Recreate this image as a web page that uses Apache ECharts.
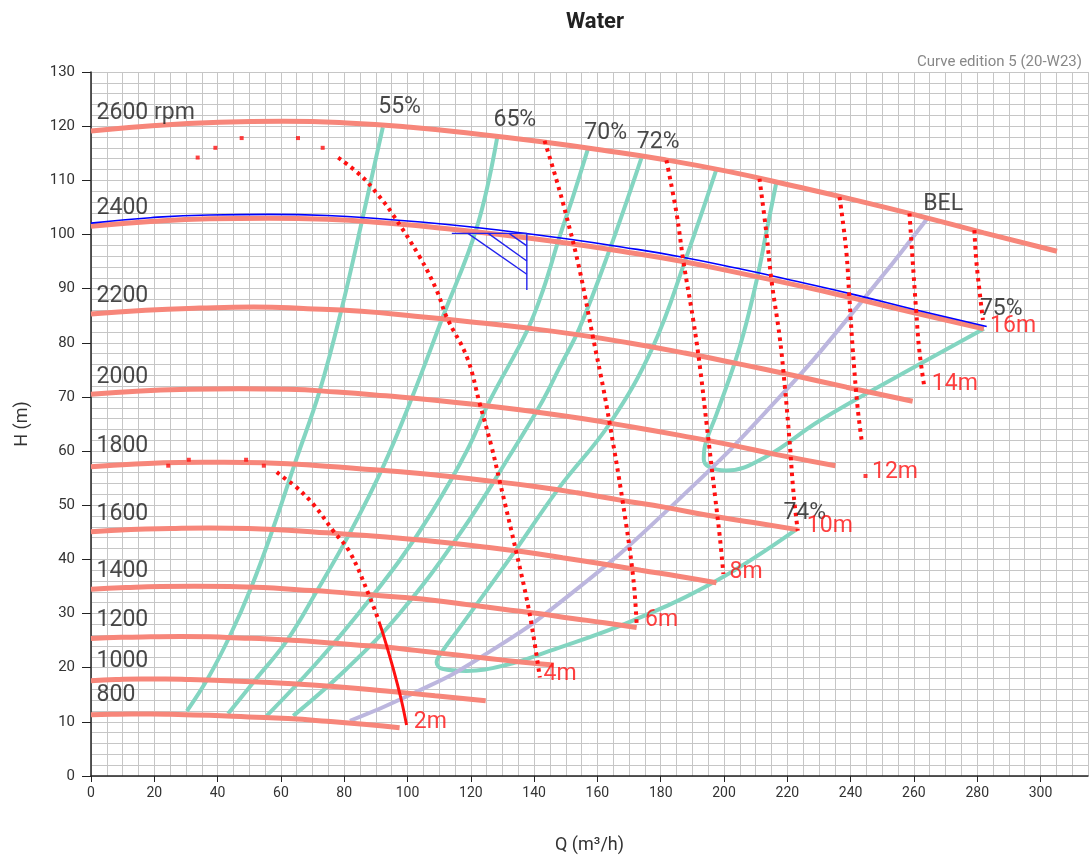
<!DOCTYPE html>
<html>
<head>
<meta charset="utf-8">
<title>Water</title>
<script src="https://cdn.jsdelivr.net/npm/echarts@6/dist/echarts.min.js"></script>
<style>
  html, body { margin: 0; padding: 0; background: #fff; }
  #chart { width: 1092px; height: 859px; }
</style>
</head>
<body>
<div id="chart"></div>
<script>
// speed curves  [Q (m3/h), H (m)]
var rpm2600 = [[0,119.1],[20.4,120.1],[40.6,120.7],[60.7,120.9],[80.8,120.6],[101,119.8],[121.1,118.6],[141.2,117.2],[161.3,115.6],[181.4,113.8],[201.6,111.6],[221.7,109.0],[241.8,106.3],[261.9,103.4],[282.1,100.3],[305.2,96.9]];
var rpm2400 = [[0,101.5],[18.8,102.4],[37.4,102.9],[56.1,103.0],[74.6,102.8],[93.2,102.1],[111.8,101.1],[130.4,99.9],[149,98.5],[167.6,96.9],[186.1,95.1],[204.6,92.9],[223.2,90.6],[241.8,88.1],[260.4,85.5],[282.1,82.6]];
var rpm2200 = [[0,85.3],[17.2,86.0],[34.3,86.4],[51.4,86.6],[68.4,86.3],[85.4,85.8],[102.4,84.9],[119.5,83.9],[136.6,82.8],[153.6,81.5],[170.6,79.9],[187.6,78.1],[204.7,76.1],[221.7,74.0],[238.7,71.8],[259.6,69.2]];
var rpm2000 = [[0,70.5],[15.7,71.1],[31.3,71.4],[46.8,71.5],[62.2,71.4],[77.7,70.9],[93.2,70.2],[108.7,69.4],[124.2,68.4],[139.6,67.3],[155.1,66.0],[170.6,64.5],[186.1,62.9],[201.6,61.2],[217.1,59.3],[235.2,57.3]];
var rpm1800 = [[0,57.1],[14.1,57.6],[28.2,57.9],[42.1,57.95],[56.1,57.8],[70,57.4],[83.9,56.8],[97.8,56.2],[111.8,55.4],[125.7,54.5],[139.7,53.5],[153.6,52.3],[167.6,50.9],[181.5,49.6],[195.3,48.1],[209.3,46.8],[223.2,45.5]];
var rpm1600 = [[0,45.1],[12.6,45.5],[25.1,45.7],[37.5,45.8],[49.8,45.7],[62.2,45.4],[74.6,44.9],[87,44.4],[99.4,43.8],[111.8,43.1],[124.2,42.3],[136.6,41.4],[149,40.3],[161.3,39.2],[173.7,38.0],[185.6,36.9],[197.6,35.7]];
var rpm1400 = [[0,34.5],[11,34.8],[22,35.0],[32.8,35.05],[43.7,35.0],[54.5,34.8],[65.3,34.4],[76.2,34.0],[87,33.5],[97.9,33.0],[108.7,32.4],[119.5,31.6],[130.3,30.8],[141.2,30.0],[152.1,29.1],[162.2,28.3],[172.4,27.4]];
var rpm1200 = [[0,25.4],[9.5,25.6],[18.9,25.7],[28.2,25.75],[37.4,25.7],[46.8,25.5],[56.1,25.3],[65.3,25.0],[74.6,24.6],[83.9,24.2],[93.2,23.8],[102.5,23.2],[111.8,22.6],[121,22.0],[130.3,21.4],[138.3,20.9],[146.2,20.5]];
var rpm1000 = [[0,17.6],[7.9,17.8],[15.8,17.9],[23.5,17.9],[31.3,17.8],[46.8,17.5],[62.2,17.1],[77.7,16.5],[93.2,15.7],[108.7,14.8],[124.7,13.9]];
var rpm800 = [[0,11.3],[6.4,11.4],[12.7,11.45],[18.9,11.45],[25.1,11.4],[37.4,11.2],[49.8,10.9],[62.2,10.6],[74.6,10.1],[87.1,9.5],[97.5,8.9]];

// duty curve (blue) and its hatched tolerance mark
var dutyCurve = [[0,102.1],[18.8,103.1],[37.4,103.6],[56.1,103.7],[74.6,103.5],[93.2,102.8],[111.8,101.9],[130.4,100.7],[149,99.3],[167.6,97.7],[186.1,95.9],[204.6,93.7],[223.2,91.3],[241.8,88.8],[260.4,86.1],[283,83.0]];
var hatch = [
  [[114,100.2],[137.7,100.2]],
  [[137.7,100.2],[137.7,89.75]],
  [[119.1,100.2],[137.7,92.65]],
  [[125.5,100.2],[137.7,95.1]],
  [[132.1,100.2],[137.7,97.9]]
];

// iso-efficiency curves
var eff55 = [[30.3,12],[37,18.1],[43.9,25.9],[50.8,35.1],[57.5,45.7],[64.4,57.7],[72.3,71.2],[79.2,86.3],[85.8,103],[92.2,119.8]];
var eff65 = [[43.3,11.5],[51.7,17.6],[61.9,25],[71.4,34.2],[81.8,44.9],[92.2,57],[101.3,69.7],[111.1,84.7],[121.9,101.3],[128.3,117.8]];
var eff70 = [[55.5,11.1],[70.7,20.5],[83.8,29.5],[97.5,39.8],[108,49],[118.8,60.1],[126,69.3],[137.6,82],[142.8,89.7],[148,99.5],[152.3,107],[157,115.8]];
var eff72 = [[63.9,11.1],[80.8,19.8],[97.5,30],[116.5,44.7],[133.3,60.1],[142.7,69.3],[148,75.4],[154.4,82.8],[163.8,97.1],[174,114.3]];
var eff74 = [[197.6,112],[188.1,95.8],[177.5,79.2],[163.8,65.0],[148,53.3],[132.1,40],[116.5,27.4],[111,23],[109.2,21],[111,19.8],[118.6,19.4],[131.1,20.5],[144.9,23.1],[171.2,28.7],[197.7,36.1],[223,45.6]];
var eff75 = [[216.5,109.5],[213.5,100.8],[210.3,91.5],[204.9,79.1],[197.7,66.9],[194,61],[193.6,58.5],[195.5,57],[200.7,56.4],[213.4,59],[230.2,65.6],[257,74.5],[282.1,82.6]];

// best efficiency line
var bel = [[81.8,10.2],[100.9,15],[122.8,21.8],[151.3,33.5],[185.4,50.9],[216.5,69.3],[241.8,86.4],[264.3,103]];

// NPSH curves
var npsh2mDots = [[24.4,57.3],[30.9,58.4],[49,58.4],[54.6,57.3]];
var npsh2m = [[58.7,56.1],[61.8,54.7],[64.4,53.6],[70.2,50.2],[76.5,45.3],[81.8,41.3],[88.1,33],[91,28.5]];
var npsh2mLow = [[91,28.5],[92.3,26.2],[95.4,20],[98.1,13.9],[99.7,9.4]];
var npsh4mDots = [[33.7,114.2],[39.3,116],[47.6,117.8],[65.4,117.8],[73.2,116]];
var npsh4m = [[78.1,114.2],[85.4,110.8],[90.7,107.3],[95.1,103.9],[103.9,95.8],[109.2,89.7],[112.4,84.7],[118.8,77.3],[122.8,68.8],[126.6,60.7],[129.1,54.5],[134.5,41],[138.6,29.9],[141.8,18.2]];
var npsh6m = [[143.3,117.3],[147.1,110],[150.3,103.2],[154.4,93.4],[158.6,81],[161.8,71.8],[163.9,65],[167.9,51],[171.3,36.7],[172.4,28]];
var npsh8m = [[181.8,113.7],[185,103.9],[187.2,94.9],[190.3,84.1],[192.4,75.5],[194.5,65],[197.2,51.5],[198.7,44],[199.8,37.3]];
var npsh10m = [[211.2,110.3],[213.4,100.2],[215,91.5],[217.6,81],[219.2,72],[220.7,61.9],[222,52],[223.3,45.3]];
var npsh12m = [[236.5,106.9],[238.6,97.1],[239.6,88.4],[240.7,78.6],[242.2,68.1],[243.5,61.9]];
var npsh12mDots = [[244.7,55.4]];
var npsh14m = [[258.6,103.9],[259.6,95.2],[260.7,86],[261.7,78.6],[263.3,71.8]];
var npsh16m = [[279.1,100.8],[279.7,95.2],[280.7,89.7],[281.8,84.2]];

// text labels [text, Q, H]
var speedLabels = [['2600 rpm',1.6,122.4],['2400',1.6,104.9],['2200',1.6,88.6],['2000',1.6,73.7],['1800',1.6,60.8],['1600',1.6,48.4],['1400',1.6,37.9],['1200',1.6,28.8],['1000',1.6,21.1],['800',1.6,15.0]];
var effLabels = [['55%',90.6,123.4],['65%',127,121.0],['70%',155.7,118.6],['72%',172.3,117.1],['74%',218.6,48.5],['75%',280.7,86.1],['BEL',262.8,105.6]];
var npshLabels = [['2m',101.8,10.0],['4m',142.8,18.7],['6m',174.9,28.7],['8m',201.6,37.6],['10m',226,46.2],['12m',246.6,56.0],['14m',265.5,72.4],['16m',283.9,83.1]];

var SPEED = '#f7867a', TEAL = '#83d5c1', LAV = '#bcb6de', RED = '#ff1010';

function line(data, color, width, more) {
  var s = {
    type: 'line', data: data, showSymbol: false, smooth: 0.4, silent: true,
    lineStyle: { color: color, width: width }
  };
  for (var k in more) s[k] = more[k];
  return s;
}
function dotted(data) {
  return line(data, RED, 4, { lineStyle: { color: RED, width: 4, type: [3.5, 4.5], cap: 'butt' }, z: 5 });
}
function dots(data) {
  return { type: 'scatter', data: data, symbol: 'rect', symbolSize: 4, itemStyle: { color: RED }, silent: true, z: 5 };
}
function labels(items, color) {
  return {
    type: 'scatter', silent: true, z: 10, symbolSize: 1,
    itemStyle: { color: 'rgba(0,0,0,0)' },
    data: items.map(function (it) { return { name: it[0], value: [it[1], it[2]] }; }),
    label: { show: true, position: 'right', distance: 0, formatter: '{b}', color: color, fontSize: 23, fontFamily: 'Roboto' }
  };
}

var series = [];
[eff55, eff65, eff70, eff72, eff74, eff75].forEach(function (d) { series.push(line(d, TEAL, 4)); });
series.push(line(bel, LAV, 4, { smooth: true }));
[rpm2600, rpm2400, rpm2200, rpm2000, rpm1800, rpm1600, rpm1400, rpm1200, rpm1000, rpm800].forEach(function (d) {
  series.push(line(d, SPEED, 5, { smooth: true }));
});
series.push(line(dutyCurve, '#0000ff', 1.6, { smooth: true, z: 4 }));
hatch.forEach(function (seg) { series.push(line(seg, '#2222ee', 1.4, { smooth: false, z: 4 })); });
[npsh2m, npsh4m, npsh6m, npsh8m, npsh10m, npsh12m, npsh14m, npsh16m].forEach(function (d) { series.push(dotted(d)); });
series.push(line(npsh2mLow, RED, 3, { z: 5 }));
series.push(dots(npsh2mDots), dots(npsh4mDots), dots(npsh12mDots));
series.push(labels(speedLabels, '#1a1a1a'), labels(effLabels, '#1a1a1a'), labels(npshLabels, RED));

var chart = echarts.init(document.getElementById('chart'));
chart.setOption({
  animation: false,
  backgroundColor: '#fff',
  textStyle: { fontFamily: 'Roboto' },
  title: [
    { text: 'Water', left: 590, top: 6, textAlign: 'center', textStyle: { fontSize: 22, fontWeight: 'bold', color: '#222' } },
    { text: 'Curve edition 5 (20-W23)', right: 5, top: 50, textStyle: { fontSize: 15, fontWeight: 'normal', color: '#888' } }
  ],
  grid: { left: 91, right: 4, top: 72, bottom: 83 },
  xAxis: [
    {
      type: 'value', min: 0, max: 315, interval: 20,
      name: 'Q (m³/h)', nameLocation: 'middle', nameGap: 60,
      nameTextStyle: { fontSize: 18, color: '#333' },
      axisLine: { lineStyle: { color: '#222', width: 1.5 } },
      axisTick: { length: 6, lineStyle: { color: '#222' } },
      axisLabel: { fontSize: 14, color: '#333', margin: 10, showMaxLabel: false },
      splitLine: { show: false }
    },
    {
      type: 'value', min: 0, max: 315, interval: 5, position: 'bottom',
      axisLine: { show: false }, axisTick: { show: false }, axisLabel: { show: false },
      splitLine: { show: true, lineStyle: { color: '#c6c6c6', width: 1 } }
    }
  ],
  yAxis: {
    type: 'value', min: 0, max: 130, interval: 10,
    name: 'H (m)', nameLocation: 'middle', nameGap: 60,
    nameTextStyle: { fontSize: 18, color: '#333' },
    axisLine: { show: true, lineStyle: { color: '#222', width: 1.5 } },
    axisTick: { show: true, length: 9, lineStyle: { color: '#222' } },
    axisLabel: { fontSize: 15, color: '#333', margin: 16 },
    splitLine: { show: true, lineStyle: { color: '#c6c6c6' } },
    minorTick: { show: false, splitNumber: 5 },
    minorSplitLine: { show: true, lineStyle: { color: '#c6c6c6' } }
  },
  series: series
});
</script>
</body>
</html>
